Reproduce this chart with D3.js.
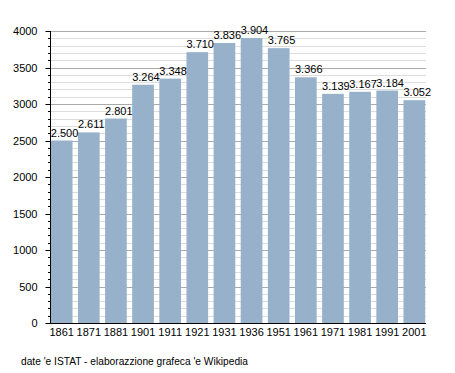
<!DOCTYPE html>
<html><head><meta charset="utf-8">
<script src="https://cdn.jsdelivr.net/npm/d3@7"></script>
<style>body{margin:0;background:#fff}svg{display:block}text{font-family:"Liberation Sans",Arial,sans-serif;fill:#000}</style>
</head><body>
<script>
const years = ["1861","1871","1881","1901","1911","1921","1931","1936","1951","1961","1971","1981","1991","2001"];
const population = [2500,2611,2801,3264,3348,3710,3836,3904,3765,3366,3139,3167,3184,3052];
const majorTicks = [0,500,1000,1500,2000,2500,3000,3500,4000];
const footer = "date 'e ISTAT - elaborazzione grafeca 'e Wikipedia";

const W=455,H=373;
const svg=d3.select("body").append("svg").attr("width",W).attr("height",H);
const x=d3.scaleBand().domain(years).range([50,426]).paddingInner(0.2).paddingOuter(0.03);
const y=d3.scaleLinear().domain([0,4000]).range([323,31]);
const minor=d3.range(0,4001,100);
const fmt=v=>d3.format(",")(v).replace(/,/g,".");

svg.append("g").selectAll("line").data(minor.filter(v=>v%500!==0)).join("line")
  .attr("x1",50).attr("x2",426).attr("y1",d=>Math.round(y(d))+0.5).attr("y2",d=>Math.round(y(d))+0.5)
  .attr("stroke","#dddddd").attr("stroke-width",1);
svg.append("g").selectAll("line").data(majorTicks.filter(v=>v>0)).join("line")
  .attr("x1",50).attr("x2",426).attr("y1",d=>Math.round(y(d))+0.5).attr("y2",d=>Math.round(y(d))+0.5)
  .attr("stroke","#aaaaaa").attr("stroke-width",1);

svg.append("g").selectAll("rect").data(population).join("rect")
  .attr("x",(d,i)=>x(years[i])).attr("width",x.bandwidth())
  .attr("y",d=>y(d)).attr("height",d=>y(0)-y(d)).attr("fill","#98b1cb");

svg.append("g").selectAll("text").data(population).join("text")
  .attr("x",(d,i)=>x(years[i])).attr("y",d=>y(d)-4)
  .attr("font-size",11).text(d=>fmt(d));

// y axis
const ya=svg.append("g").attr("transform","translate(50.5,0)");
ya.append("line").attr("y1",31).attr("y2",323).attr("stroke","#000");
ya.selectAll("line.mi").data(minor).join("line").attr("class","mi")
  .attr("x1",d=>d%500===0?-5:-2.5).attr("x2",0)
  .attr("y1",d=>Math.round(y(d))+0.5).attr("y2",d=>Math.round(y(d))+0.5).attr("stroke","#000");
ya.selectAll("text").data(majorTicks).join("text")
  .attr("x",-13).attr("y",d=>y(d)+4).attr("text-anchor","end").attr("font-size",11).text(d=>d);

// x axis
svg.append("line").attr("x1",50).attr("x2",426).attr("y1",323.5).attr("y2",323.5).attr("stroke","#000");
svg.append("g").selectAll("text").data(years).join("text")
  .attr("x",d=>x(d)+x.bandwidth()/2).attr("y",336).attr("text-anchor","middle").attr("font-size",11).text(d=>d);

svg.append("text").attr("x",21).attr("y",365).attr("font-size",10.2).text(footer);
</script>
</body></html>
